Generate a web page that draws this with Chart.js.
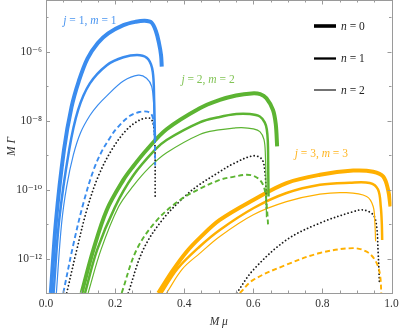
<!DOCTYPE html>
<html><head><meta charset="utf-8">
<script src="https://cdn.jsdelivr.net/npm/chart.js@4.4.1/dist/chart.umd.min.js"></script>
<style>html,body{margin:0;padding:0;background:#fff}#wrap{width:399px;height:331px}</style>
</head><body><div id="wrap"><canvas id="c" width="399" height="331"></canvas></div>
<script>
// ---------- DATA ----------
// j=1, m=1 (blue)
const j1n0X = [0.014,0.029,0.052,0.074,0.095,0.12,0.15,0.18,0.224,0.26,0.286,0.305,0.318,0.327,0.333,0.335];
const j1n0Y = [1e-13,1.26e-11,1.41e-9,2.51e-8,1.41e-7,6.31e-7,1.78e-6,3.39e-6,5.89e-6,7.41e-6,7.94e-6,7.08e-6,3.98e-6,1.78e-6,7.94e-7,3.72e-7];
const j1n1X = [0.022,0.038,0.067,0.093,0.127,0.176,0.224,0.272,0.296,0.309,0.313,0.315,0.316];
const j1n1Y = [1e-13,1.26e-11,1.41e-9,2.04e-8,1.20e-7,4.07e-7,6.92e-7,7.94e-7,6.03e-7,2.63e-7,3.98e-8,4.27e-9,2.75e-9];
const j1n2X = [0.030,0.045,0.06,0.079,0.1,0.127,0.15,0.176,0.224,0.267,0.291,0.306,0.312,0.315,0.316];
const j1n2Y = [1e-13,1e-11,1.26e-10,1e-9,4.47e-9,1.41e-8,2.82e-8,5.25e-8,1.41e-7,2.09e-7,1.70e-7,9.77e-8,2.57e-8,6.31e-9,3.16e-9];
const j1DashX = [0.05,0.079,0.108,0.137,0.161,0.185,0.205,0.243,0.27,0.293,0.306,0.312,0.315,0.316];
const j1DashY = [1e-13,2.51e-12,3.98e-11,3.55e-10,1.26e-9,3.16e-9,6.03e-9,1.38e-8,1.78e-8,1.82e-8,1.48e-8,8.32e-9,2.51e-9,5.01e-10];
const j1DotX = [0.06,0.089,0.118,0.151,0.19,0.233,0.272,0.301,0.31,0.315,0.316];
const j1DotY = [1e-13,1.78e-12,2.57e-11,2.40e-10,1.41e-9,5.37e-9,1.05e-8,1.17e-8,8.32e-9,2.51e-9,6.31e-11];
// j=2, m=2 (green)
const j2n0X = [0.103,0.137,0.176,0.224,0.252,0.291,0.349,0.445,0.503,0.55,0.595,0.62,0.638,0.657,0.665,0.669];
const j2n0Y = [1e-13,1.78e-12,2.57e-11,1.91e-10,4.68e-10,1.41e-9,5.62e-9,2.29e-8,3.98e-8,5.37e-8,6.17e-8,5.89e-8,4.47e-8,2.04e-8,7.94e-9,1.78e-9];
const j2n1X = [0.113,0.148,0.2,0.252,0.315,0.349,0.445,0.5,0.551,0.59,0.619,0.633,0.639,0.642,0.643,0.644];
const j2n1Y = [1e-13,1.78e-12,3.16e-11,2.51e-10,1.41e-9,2.75e-9,8.91e-9,1.26e-8,1.55e-8,1.55e-8,1.32e-8,8.91e-9,5.62e-9,2.51e-9,6.31e-10,6.31e-11];
const j2n2X = [0.122,0.159,0.21,0.252,0.3,0.349,0.445,0.5,0.542,0.566,0.6,0.619,0.631,0.635,0.637,0.638];
const j2n2Y = [1e-13,1.78e-12,3.16e-11,1.26e-10,4.47e-10,1.17e-9,3.98e-9,5.37e-9,6.03e-9,6.31e-9,5.75e-9,4.79e-9,2.82e-9,1e-9,1e-10,1.58e-11];
const j2DashX = [0.219,0.262,0.32,0.388,0.445,0.503,0.542,0.58,0.605,0.625,0.635,0.64,0.643];
const j2DashY = [1e-13,1.78e-12,1.26e-11,5.01e-11,1.05e-10,1.91e-10,2.34e-10,2.69e-10,2.40e-10,1.58e-10,7.94e-11,2.51e-11,8.51e-12];
const j2DotX = [0.238,0.281,0.339,0.407,0.445,0.5,0.542,0.6,0.625,0.633,0.637,0.638];
const j2DotY = [1e-13,1.78e-12,1.41e-11,7.08e-11,1.41e-10,3.16e-10,5.62e-10,9.55e-10,7.59e-10,3.55e-10,1e-10,2.82e-11];
// j=3, m=3 (orange)
const j3n0X = [0.325,0.368,0.407,0.445,0.503,0.6,0.696,0.793,0.889,0.947,0.976,0.99,0.997];
const j3n0Y = [1e-13,4.68e-13,1.58e-12,3.98e-12,1.32e-11,5.01e-11,1.55e-10,2.69e-10,3.55e-10,3.31e-10,2.40e-10,1e-10,3.24e-11];
const j3n1X = [0.334,0.38,0.445,0.503,0.6,0.696,0.793,0.879,0.937,0.961,0.969,0.972,0.973];
const j3n1Y = [1e-13,5.01e-13,2.24e-12,6.76e-12,2.88e-11,7.94e-11,1.38e-10,1.58e-10,1.55e-10,1e-10,3.16e-11,1e-11,3.47e-12];
const j3n2X = [0.349,0.395,0.445,0.503,0.6,0.696,0.793,0.869,0.928,0.947,0.952,0.954];
const j3n2Y = [1e-13,5.01e-13,1.41e-12,4.37e-12,1.86e-11,4.47e-11,7.41e-11,8.13e-11,6.31e-11,3.24e-11,1e-11,3.16e-12];
const j3DashX = [0.561,0.6,0.696,0.793,0.889,0.928,0.952,0.966,0.971];
const j3DashY = [1e-13,2.40e-13,6.61e-13,1.45e-12,2.00e-12,1.58e-12,9.12e-13,3.80e-13,7.94e-14];
const j3DotX = [0.552,0.6,0.696,0.793,0.889,0.918,0.947,0.957,0.961,0.964,0.965];
const j3DotY = [1e-13,4.68e-13,3.47e-12,1.07e-11,2.29e-11,2.57e-11,1.86e-11,8.51e-12,1.78e-12,3.80e-13,2.00e-13];

// ticks and labels
const xTickValues = [0,0.05,0.1,0.15,0.2,0.25,0.3,0.35,0.4,0.45,0.5,0.55,0.6,0.65,0.7,0.75,0.8,0.85,0.9,0.95,1.0];
const xTickLabels = ['0.0','','','','0.2','','','','0.4','','','','0.6','','','','0.8','','','','1.0'];
const yTickValues = [1e-13,1e-12,1e-11,1e-10,1e-9,1e-8,1e-7,1e-6,1e-5];
const yTickLabels = ['','10\u207B\u00B9\u00B2','','10\u207B\u00B9\u2070','','10\u207B\u2078','','10\u207B\u2076',''];
const curveLabels = [
  {parts:[['j',1],[' = 1, ',0],['m',1],[' = 1',0]], x:0.127, y:8.0e-6, color:'#4a95f0'},
  {parts:[['j',1],[' = 2, ',0],['m',1],[' = 2',0]], x:0.469, y:1.55e-7, color:'#82c456'},
  {parts:[['j',1],[' = 3, ',0],['m',1],[' = 3',0]], x:0.797, y:1.1e-9, color:'#ffb520'}
];
const legendLabels = ['0','1','2'];

// ---------- STYLE ----------
const BLUE='#3a8cef', GREEN='#5cb432', ORANGE='#ffb000', DOT='#1a1a1a';
const W = [4,2.5,1.2];
const SERIF = '"Liberation Serif","DejaVu Serif",serif';
const TENSION = 0.35;

function pts(xs, ys){ return xs.map((x,i)=>({x:x, y:ys[i]})); }
function solid(xs,ys,c,w){ return {data:pts(xs,ys), borderColor:c, borderWidth:w, showLine:true, pointRadius:0, tension:TENSION, fill:false}; }
function dashed(xs,ys,c){ return {data:pts(xs,ys), borderColor:c, borderWidth:1.9, borderDash:[5,3], showLine:true, pointRadius:0, tension:TENSION, fill:false}; }
function dotted(xs,ys){ return {data:pts(xs,ys), borderColor:DOT, borderWidth:1.8, borderDash:[0.01,3.6], borderCapStyle:'round', showLine:true, pointRadius:0, tension:TENSION, fill:false}; }

const datasets = [
  solid(j1n0X,j1n0Y,BLUE,W[0]), solid(j1n1X,j1n1Y,BLUE,W[1]), solid(j1n2X,j1n2Y,BLUE,W[2]),
  dashed(j1DashX,j1DashY,BLUE), dotted(j1DotX,j1DotY),
  solid(j2n0X,j2n0Y,GREEN,W[0]), solid(j2n1X,j2n1Y,GREEN,W[1]), solid(j2n2X,j2n2Y,GREEN,W[2]),
  dashed(j2DashX,j2DashY,GREEN), dotted(j2DotX,j2DotY),
  solid(j3n0X,j3n0Y,ORANGE,W[0]), solid(j3n1X,j3n1Y,ORANGE,W[1]), solid(j3n2X,j3n2Y,ORANGE,W[2]),
  dashed(j3DashX,j3DashY,ORANGE), dotted(j3DotX,j3DotY)
];

function drawRich(ctx, parts, x, y, size, color, align){
  ctx.save();
  ctx.fillStyle = color; ctx.textBaseline='middle'; ctx.textAlign='left';
  let total = 0;
  const widths = parts.map(p=>{ ctx.font=(p[1]?'italic ':'')+size+'px '+SERIF; const w=ctx.measureText(p[0]).width; total+=w; return w; });
  let cx = align==='center' ? x-total/2 : x;
  parts.forEach((p,i)=>{ ctx.font=(p[1]?'italic ':'')+size+'px '+SERIF; ctx.fillText(p[0],cx,y); cx+=widths[i]; });
  ctx.restore();
}

const framePlugin = {
  id:'frame',
  afterDraw(chart){
    const {ctx, chartArea:a, scales:{x,y}} = chart;
    ctx.save();
    ctx.strokeStyle='#9a9a9a'; ctx.lineWidth=1;
    ctx.strokeRect(Math.round(a.left)+0.5, Math.round(a.top)+0.5, Math.round(a.right-a.left), Math.round(a.bottom-a.top));
    ctx.beginPath();
    x.ticks.forEach((t)=>{
      const px = Math.round(x.getPixelForValue(t.value))+0.5;
      const major = xTickLabels[xTickValues.indexOf(t.value)] !== '';
      const len = major ? 4.5 : 2.5;
      ctx.moveTo(px, a.bottom); ctx.lineTo(px, a.bottom-len);
      ctx.moveTo(px, a.top); ctx.lineTo(px, a.top+len);
    });
    y.ticks.forEach((t)=>{
      const py = Math.round(y.getPixelForValue(t.value))+0.5;
      const idx = yTickValues.indexOf(t.value);
      const major = idx>=0 && yTickLabels[idx] !== '';
      const len = major ? 4 : 2.5;
      ctx.moveTo(a.left, py); ctx.lineTo(a.left+len, py);
      ctx.moveTo(a.right, py); ctx.lineTo(a.right-len, py);
    });
    ctx.stroke();
    ctx.restore();
  },
  afterDatasetsDraw(chart){
    const {ctx, scales:{x,y}} = chart;
    curveLabels.forEach(l=>{
      drawRich(ctx, l.parts, x.getPixelForValue(l.x), y.getPixelForValue(l.y), 11.5, l.color, 'center');
    });
    ctx.save();
    const ly = [26, 58.5, 90];
    const lw = [3.6, 2.3, 1.1];
    legendLabels.forEach((lab,i)=>{
      ctx.strokeStyle='#000'; ctx.lineWidth=lw[i];
      ctx.beginPath(); ctx.moveTo(314, ly[i]); ctx.lineTo(336, ly[i]); ctx.stroke();
      drawRich(ctx, [['n',1],[' = '+lab,0]], 341, ly[i]+0.5, 11.5, '#222', 'left');
    });
    ctx.restore();
  }
};

new Chart(document.getElementById('c'), {
  type:'scatter',
  data:{datasets},
  options:{
    responsive:false, animation:false, devicePixelRatio:1,
    layout:{padding:{top:0,right:7.5,left:0,bottom:0}},
    plugins:{legend:{display:false}, tooltip:{enabled:false}},
    scales:{
      x:{
        type:'linear', min:0, max:1,
        afterBuildTicks(s){ s.ticks = xTickValues.map(v=>({value:v})); },
        afterFit(s){ s.height = 38; s.paddingLeft = 0; s.paddingRight = 0; },
        grid:{display:false, drawTicks:false},
        border:{display:false},
        ticks:{autoSkip:false, maxRotation:0, padding:4, color:'#333', font:{family:SERIF, size:11.5},
          callback(v){ const i=xTickValues.indexOf(v); return i>=0 ? xTickLabels[i] : ''; }},
        title:{display:true, text:'M \u03BC', color:'#333', font:{family:SERIF, size:11.5, style:'italic'}, padding:{top:0,bottom:2}}
      },
      y:{
        type:'logarithmic', min:1e-13, max:Math.pow(10,-4.5),
        afterBuildTicks(s){ s.ticks = yTickValues.map(v=>({value:v})); },
        afterFit(s){ s.width = 46; s.paddingTop = 0; s.paddingBottom = 0; },
        grid:{display:false, drawTicks:false},
        border:{display:false},
        ticks:{autoSkip:false, padding:4, color:'#333', font:{family:SERIF, size:11.5},
          callback(v){ const i=yTickValues.indexOf(v); return i>=0 ? yTickLabels[i] : ''; }},
        title:{display:true, text:'M \u0393', color:'#333', font:{family:SERIF, size:11.5, style:'italic'}, padding:{top:5,bottom:0}}
      }
    }
  },
  plugins:[framePlugin]
});
</script></body></html>
